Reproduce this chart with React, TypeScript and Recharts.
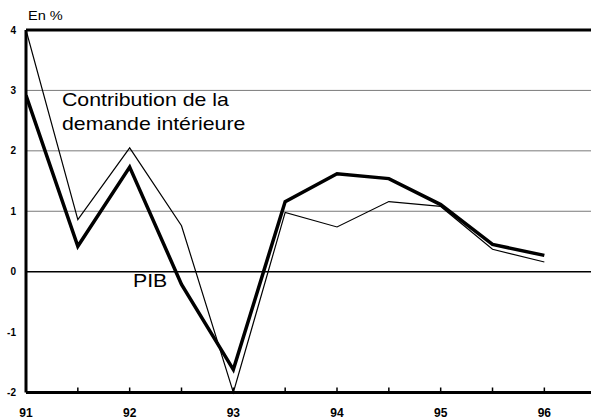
import React from "react";
import { LineChart, Line, XAxis, YAxis, ReferenceLine } from "recharts";

const periods = [91, 91.5, 92, 92.5, 93, 93.5, 94, 94.5, 95, 95.5, 96];
const pib = [2.92, 0.42, 1.73, -0.21, -1.62, 1.16, 1.62, 1.54, 1.11, 0.45, 0.27];
const demande = [4.0, 0.86, 2.05, 0.76, -2.0, 0.98, 0.74, 1.16, 1.08, 0.37, 0.16];
const xTicks = [91, 91.5, 92, 92.5, 93, 93.5, 94, 94.5, 95, 95.5, 96];
const yearLabels: Record<number, string> = { 91: "91", 92: "92", 93: "93", 94: "94", 95: "95", 96: "96" };
const yTicks = [-2, -1, 0, 1, 2, 3, 4];
const gridGray = [1, 2, 3];

const data = periods.map((p, i) => ({ p, pib: pib[i], demande: demande[i] }));

const FONT = "'Liberation Sans', Arial, Helvetica, sans-serif";

const XTick = (props: any) => {
  const { x, y, payload } = props;
  const v = payload.value as number;
  const label = yearLabels[v];
  return (
    <g>
      {v !== 91 && <line x1={x} x2={x} y1={y - 1} y2={y - 5} stroke="#000" strokeWidth={1.5} />}
      {label && (
        <text x={x} y={y + 24} textAnchor="middle" fontFamily={FONT} fontWeight="bold" fontSize={12} fill="#000">
          {label}
        </text>
      )}
    </g>
  );
};

const YTick = (props: any) => {
  const { x, y, payload } = props;
  return (
    <text x={x - 10} y={y + 3.5} textAnchor="end" fontFamily={FONT} fontWeight="bold" fontSize={10} fill="#000">
      {payload.value}
    </text>
  );
};

const labelStyle: React.CSSProperties = {
  position: "absolute",
  fontFamily: FONT,
  color: "#000",
  whiteSpace: "nowrap",
  transformOrigin: "left top",
  transform: "scaleX(1.12)",
};

export default function App() {
  return (
    <div style={{ position: "absolute", left: 0, top: 0, width: 591, height: 418, background: "#fff", overflow: "hidden" }}>
      <LineChart width={591} height={418} data={data} margin={{ top: 30, right: 0, left: 0, bottom: 0 }}>
        <XAxis
          dataKey="p"
          type="number"
          domain={[91, 96.45]}
          allowDataOverflow
          ticks={xTicks}
          interval={0}
          height={25.5}
          tickSize={0}
          tickMargin={0}
          tickLine={false}
          axisLine={{ stroke: "#000", strokeWidth: 3 }}
          tick={<XTick />}
        />
        <YAxis
          type="number"
          domain={[-2, 4]}
          ticks={yTicks}
          interval={0}
          width={26}
          tickSize={0}
          tickMargin={0}
          tickLine={false}
          axisLine={{ stroke: "#000", strokeWidth: 3 }}
          tick={<YTick />}
        />
        {gridGray.map((g) => (
          <ReferenceLine key={g} y={g} stroke="#7a7a7a" strokeWidth={1} />
        ))}
        <ReferenceLine y={0} stroke="#000" strokeWidth={1.5} />
        <ReferenceLine y={4} stroke="#000" strokeWidth={3} />
        <Line
          dataKey="demande"
          type="linear"
          stroke="#000"
          strokeWidth={1.2}
          dot={false}
          isAnimationActive={false}
        />
        <Line
          dataKey="pib"
          type="linear"
          stroke="#000"
          strokeWidth={3.5}
          dot={false}
          strokeLinejoin="miter"
          isAnimationActive={false}
        />
      </LineChart>
      <div style={{ ...labelStyle, left: 28, top: 9, fontSize: 13, lineHeight: "13px" }}>En %</div>
      <div style={{ ...labelStyle, left: 62, top: 87.5, fontSize: 19, lineHeight: "24px" }}>
        Contribution de la
        <br />
        demande intérieure
      </div>
      <div style={{ ...labelStyle, left: 133, top: 271, fontSize: 19, lineHeight: "19px" }}>PIB</div>
    </div>
  );
}
